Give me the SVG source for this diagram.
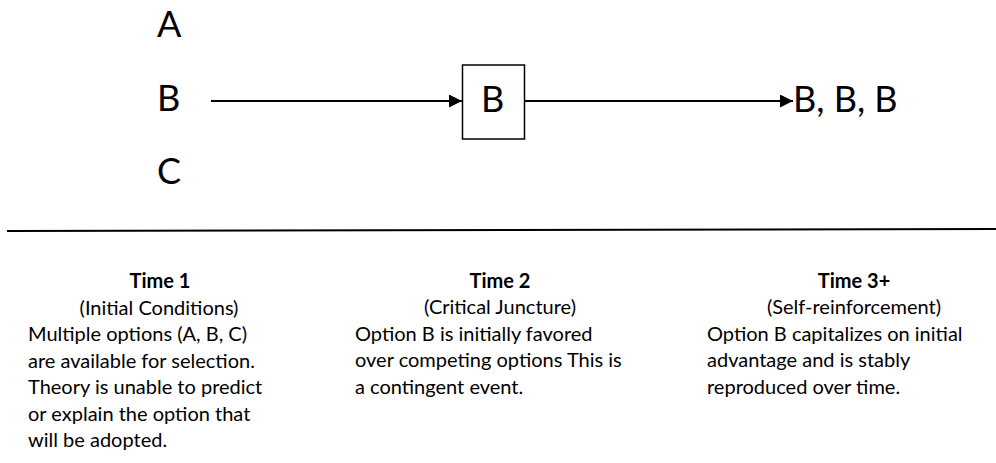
<svg xmlns="http://www.w3.org/2000/svg" width="996" height="463" viewBox="0 0 996 463">
  <style>
    .big { font-family: Lato, "Liberation Sans", sans-serif; font-size: 36px; fill: #000; }
    .hd { font-family: Lato, "Liberation Sans", sans-serif; font-size: 20px; font-weight: bold; fill: #000; text-anchor: middle; }
    .sub { font-family: Lato, "Liberation Sans", sans-serif; font-size: 20px; fill: #000; text-anchor: middle; }
    .body { font-family: Lato, "Liberation Sans", sans-serif; font-size: 20px; fill: #000; }
    .conn { stroke: #000; stroke-width: 2; fill: none; }
  </style>
  <defs>
    <marker id="arrow" markerUnits="userSpaceOnUse" markerWidth="13" markerHeight="13" viewBox="0 0 12 12" refX="12" refY="6" orient="auto">
      <path d="M0,0 L12,6 L0,12 Z" fill="#000"/>
    </marker>
  </defs>
  <rect width="996" height="463" fill="#fff"/>

  <g id="optA"><text class="big" x="157" y="37">A</text></g>
  <g id="optB"><text class="big" x="157" y="111">B</text></g>
  <g id="optC"><text class="big" x="157" y="184">C</text></g>

  <g id="juncture">
    <rect x="462.5" y="65" width="62" height="74" fill="#fff" stroke="#000" stroke-width="1.5"/>
    <text class="big" x="481" y="112">B</text>
  </g>

  <g id="result"><text class="big" x="793" y="112">B, B, B</text></g>

  <g id="connectors">
    <line class="conn" x1="211" y1="101" x2="462" y2="101" marker-end="url(#arrow)"/>
    <line class="conn" x1="525" y1="101" x2="793" y2="101" marker-end="url(#arrow)"/>
  </g>

  <g id="divider">
    <line x1="7" y1="231" x2="996" y2="229" stroke="#000" stroke-width="2"/>
  </g>

  <g id="time1">
    <text class="hd" x="160" y="288">Time 1</text>
    <text class="sub" x="159" y="314.5">(Initial Conditions)</text>
    <text class="body" x="28" y="341">Multiple options (A, B, C)</text>
    <text class="body" x="28" y="367.5">are available for selection.</text>
    <text class="body" x="28" y="394">Theory is unable to predict</text>
    <text class="body" x="28" y="420.5">or explain the option that</text>
    <text class="body" x="28" y="447">will be adopted.</text>
  </g>

  <g id="time2">
    <text class="hd" x="500" y="288">Time 2</text>
    <text class="sub" x="500" y="314">(Critical Juncture)</text>
    <text class="body" x="355" y="340.5">Option B is initially favored</text>
    <text class="body" x="355" y="367">over competing options This is</text>
    <text class="body" x="355" y="393.5">a contingent event.</text>
  </g>

  <g id="time3">
    <text class="hd" x="854" y="288">Time 3+</text>
    <text class="sub" x="854" y="314">(Self-reinforcement)</text>
    <text class="body" x="707" y="340.5">Option B capitalizes on initial</text>
    <text class="body" x="707" y="367">advantage and is stably</text>
    <text class="body" x="707" y="393.5">reproduced over time.</text>
  </g>
</svg>
